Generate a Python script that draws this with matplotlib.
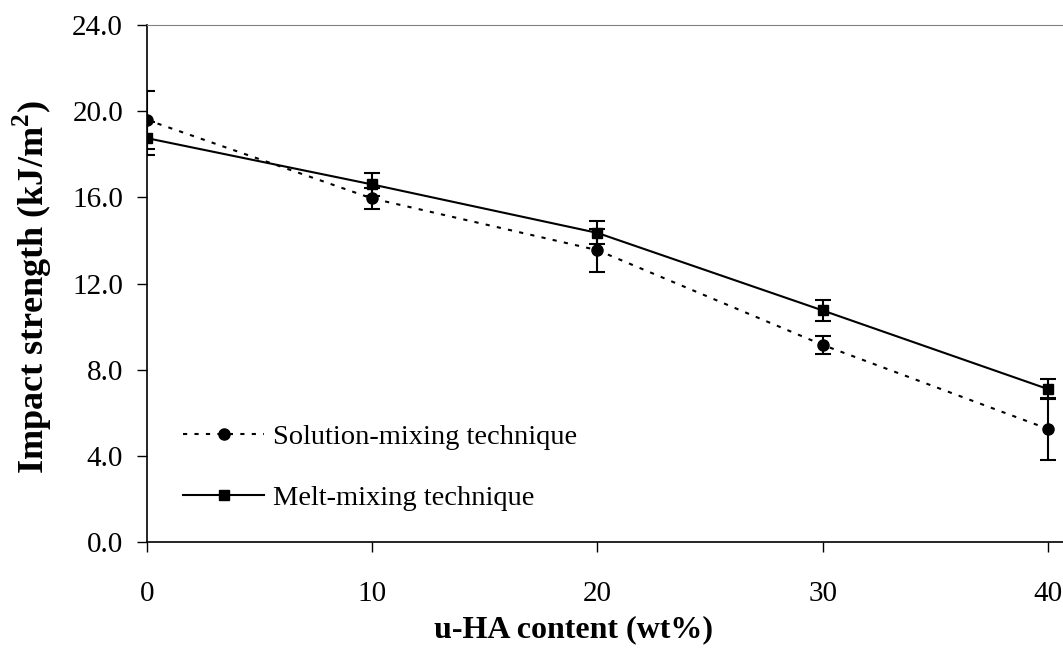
import matplotlib
matplotlib.use("Agg")
import matplotlib.pyplot as plt
from matplotlib.ticker import FormatStrFormatter

content = [0, 10, 20, 30, 40]
solution = [19.6, 15.95, 13.55, 9.15, 5.25]
solution_err = [1.35, 0.5, 1.0, 0.4, 1.45]
melt = [18.75, 16.6, 14.35, 10.75, 7.1]
melt_err = [0.77, 0.55, 0.53, 0.5, 0.47]
labels = ["Solution-mixing technique", "Melt-mixing technique"]

plt.rcParams['font.family'] = ['Liberation Serif', 'DejaVu Serif']
plt.rcParams['mathtext.fontset'] = 'custom'
plt.rcParams['mathtext.rm'] = 'Liberation Serif'
plt.rcParams['mathtext.bf'] = 'Liberation Serif:bold'

fig = plt.figure(figsize=(10.63, 6.53), dpi=100)
ax = fig.add_axes([146.7/1063, 1-542/653, 1-146.7/1063, (542-25)/653])

ax.errorbar(content, solution, yerr=solution_err, fmt='none', ecolor='black',
            elinewidth=1.5, capsize=5.5, capthick=1.5, zorder=3)
ax.errorbar(content, melt, yerr=melt_err, fmt='none', ecolor='black',
            elinewidth=1.5, capsize=5.5, capthick=1.5, zorder=3)
ax.plot(content, solution, linestyle=(0, (2.0, 3.5)), color='black', lw=1.5,
        marker='o', markersize=8, label=labels[0], zorder=4)
ax.plot(content, melt, linestyle='-', color='black', lw=1.5,
        marker='s', markersize=7.5, label=labels[1], zorder=5)

ax.set_xlim(0, 40.67)
ax.set_ylim(0, 24)
ax.set_xticks(content)
ax.set_yticks([0, 4, 8, 12, 16, 20, 24])
ax.yaxis.set_major_formatter(FormatStrFormatter('%.1f'))
ax.tick_params(axis='both', direction='out', length=7, width=1, labelsize=21, color='black')
ax.tick_params(axis='y', pad=10)
ax.tick_params(axis='x', pad=21)

ax.spines['right'].set_visible(False)
ax.spines['top'].set_color('#808080')
ax.spines['top'].set_linewidth(0.8)
ax.spines['left'].set_linewidth(1.2)
ax.spines['bottom'].set_linewidth(1.2)

ax.set_xlabel('u-HA content (wt%)', fontsize=23, fontweight='bold')
ax.xaxis.set_label_coords((573-146.7)/(1063-146.7), (542-615)/517)
ax.set_ylabel(r'Impact strength (kJ/m$^{\mathbf{2}}$)', fontsize=26, fontweight='bold')
ax.yaxis.set_label_coords((54-146.7)/(1063-146.7), (542-287.5)/517)

ax.legend(loc='center left', bbox_to_anchor=((183-146.7)/(1063-146.7), (542-467.5)/517),
          frameon=False, fontsize=20.5, handlelength=2.85, handletextpad=0.3,
          labelspacing=1.25, borderpad=0, borderaxespad=0, numpoints=1)

fig.savefig('out.png', dpi=100)
